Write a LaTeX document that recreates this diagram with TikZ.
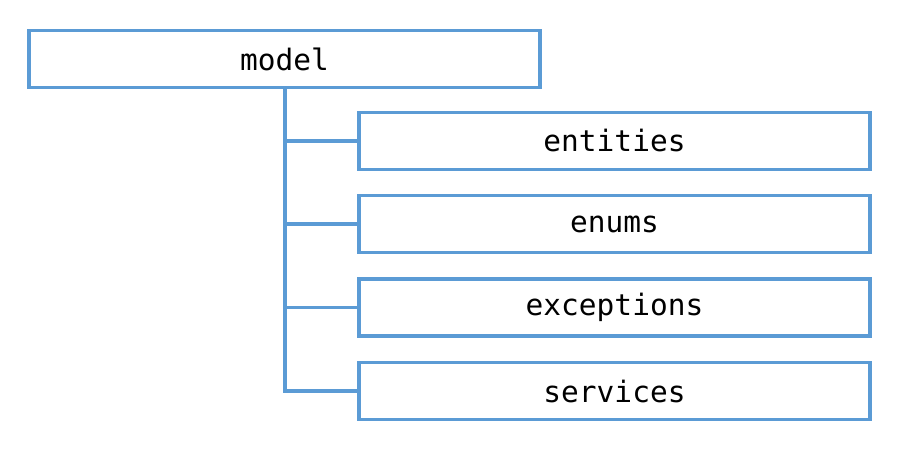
\documentclass[tikz,border=0pt]{standalone}
\usepackage{fontspec}
\setmonofont{DejaVu Sans Mono}
\definecolor{boxblue}{HTML}{5B9BD5}
\tikzset{
  dirbox/.style={draw=boxblue, line width=3.5pt, fill=white, minimum height=57pt, inner sep=0pt,
    font=\fontsize{29.5}{31}\selectfont\ttfamily, text=black},
  link/.style={draw=boxblue, line width=3.5pt}
}
\begin{document}
\begin{tikzpicture}[x=1pt,y=1pt]
\useasboundingbox (0,0) rectangle (900,459);
\node[dirbox, minimum width=511pt] (model) at (284.5,400) {model};
\node[dirbox, minimum width=511pt] (entities) at (614.5,318) {entities};
\node[dirbox, minimum width=511pt] (enums) at (614.5,235) {enums};
\node[dirbox, minimum width=511pt] (exceptions) at (614.5,151.5) {exceptions};
\node[dirbox, minimum width=511pt] (services) at (614.5,68) {services};
\coordinate (trunk) at (285,0);
\draw[link] (model.south -| trunk) |- (services.west);
\draw[link] (entities.west) -- (entities.west -| trunk);
\draw[link] (enums.west) -- (enums.west -| trunk);
\draw[link] (exceptions.west) -- (exceptions.west -| trunk);
\end{tikzpicture}
\end{document}
